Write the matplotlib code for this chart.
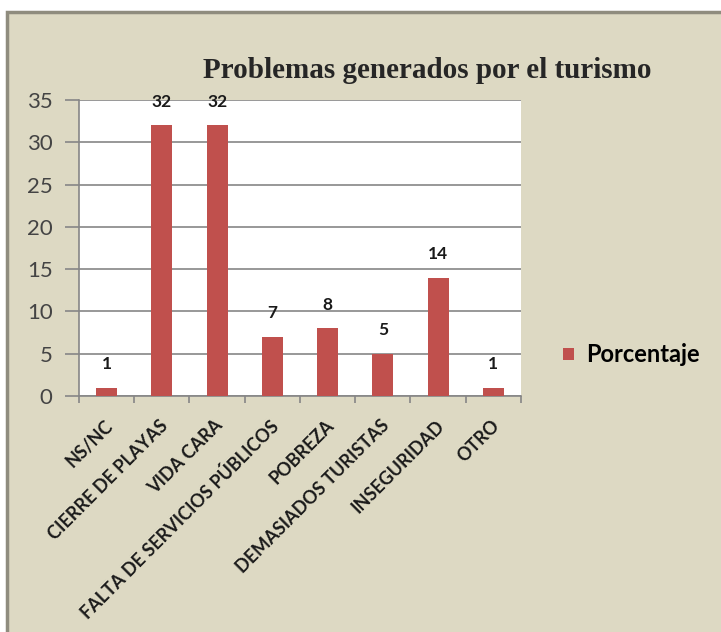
import matplotlib
matplotlib.use("Agg")
import matplotlib.pyplot as plt
from matplotlib.patches import Rectangle, Patch

# datos
categorias = ['NS/NC', 'CIERRE DE PLAYAS', 'VIDA CARA', 'FALTA DE SERVICIOS PÚBLICOS',
              'POBREZA', 'DEMASIADOS TURISTAS', 'INSEGURIDAD', 'OTRO']
porcentaje = [1, 32, 32, 7, 8, 5, 14, 1]
yticks = [0, 5, 10, 15, 20, 25, 30, 35]

W, H = 721, 632
fig = plt.figure(figsize=(W / 100, H / 100), dpi=100)
fig.patch.set_facecolor('white')

# panel beige con borde
fig.patches.append(Rectangle((7 / W, -0.01), 1, 1.01 - 12 / H, transform=fig.transFigure,
                             facecolor='#ddd9c3', edgecolor='#8f8c7e', linewidth=2.5,
                             zorder=-5))

ax = fig.add_axes([79 / W, 1 - 396 / H, (521 - 79) / W, (396 - 100) / H])
ax.set_facecolor('white')

x = list(range(len(categorias)))
bars = ax.bar(x, porcentaje, width=0.38, color='#c0504d', zorder=3)

ax.set_xlim(-0.5, len(categorias) - 0.5)
ax.set_ylim(0, 35)
ax.set_yticks(yticks)
ax.yaxis.grid(True, color='#868686', linewidth=1.2, zorder=1)
ax.tick_params(axis='y', length=10, width=1.2, color='#868686', labelsize=16,
               labelcolor='#444444', pad=9)
for lab in ax.get_yticklabels():
    lab.set_family('Lato')

# ticks del eje x en los limites de categoria
ax.set_xticks([i - 0.5 for i in range(len(categorias) + 1)])
ax.set_xticklabels([])
ax.tick_params(axis='x', length=5, width=1.2, color='#868686')
for i, c in enumerate(categorias):
    ax.annotate(c, xy=(i, 0), xycoords=('data', 'axes fraction'),
                xytext=(-2, -15), textcoords='offset points', rotation=45,
                rotation_mode='anchor', ha='right', va='top', fontsize=13,
                fontweight='bold', family='Lato', color='#1a1a1a')

for s in ['top', 'right']:
    ax.spines[s].set_visible(False)
for s in ['left', 'bottom']:
    ax.spines[s].set_color('#868686')
    ax.spines[s].set_linewidth(1.2)

# etiquetas de datos
for xi, v in zip(x, porcentaje):
    ax.annotate(str(v), xy=(xi, v), xytext=(0, 17), textcoords='offset points',
                ha='center', va='center', fontsize=12.5, fontweight='bold',
                family='Lato', color='#1a1a1a')

fig.text(427 / W, 1 - 70 / H, 'Problemas generados por el turismo', ha='center',
         va='center', fontsize=21, fontweight='bold', family='Liberation Serif',
         color='#262626')

leg = fig.legend(handles=[Patch(facecolor='#c0504d', label='Porcentaje')],
                 loc='center left', bbox_to_anchor=(542 / W, 1 - 355 / H),
                 frameon=False, handlelength=0.45, handleheight=0.45, handletextpad=0.5,
                 prop={'family': 'Lato', 'weight': 'bold', 'size': 17})

fig.savefig('out.png', dpi=100, facecolor=fig.get_facecolor())
